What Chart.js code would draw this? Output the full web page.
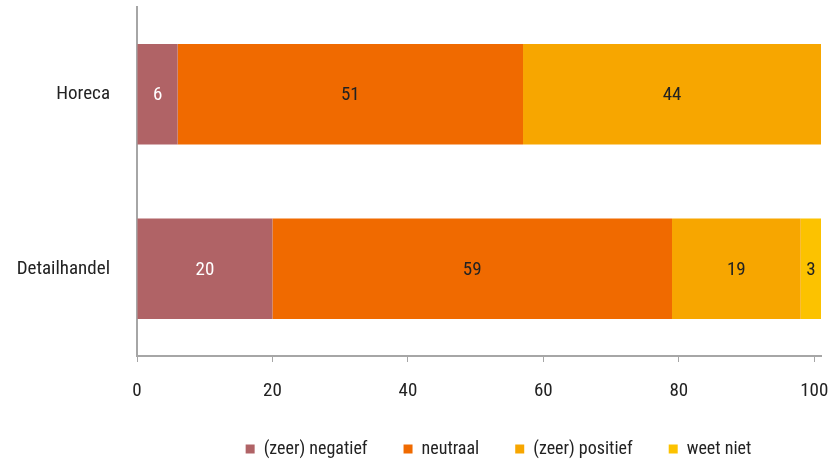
<!DOCTYPE html>
<html>
<head>
<meta charset="utf-8">
<script src="https://cdn.jsdelivr.net/npm/chart.js@4"></script>
<style>
html,body{margin:0;padding:0;background:#fff;}
#wrap{width:830px;height:464px;position:relative;}
</style>
</head>
<body>
<div id="wrap"><canvas id="c" width="830" height="464"></canvas></div>
<script>
const categories = ["Horeca", "Detailhandel"];
const seriesNames = ["(zeer) negatief", "neutraal", "(zeer) positief", "weet niet"];
const negatief = [6, 20];
const neutraal = [51, 59];
const positief = [44, 19];
const weetNiet = [0, 3];
const tickLabels = [0, 20, 40, 60, 80, 100];

const colors = ["#b06366", "#f06a00", "#f7a600", "#fcc200"];
const labelColors = ["#ffffff", "#222222", "#222222", "#222222"];
const FONT = "'Roboto Condensed', 'Liberation Sans Narrow', 'Arial Narrow', sans-serif";

const allSeries = [negatief, neutraal, positief, weetNiet];

const valueLabels = {
  id: 'valueLabels',
  afterDatasetsDraw(chart) {
    const ctx = chart.ctx;
    ctx.save();
    ctx.font = "19px " + FONT;
    ctx.textAlign = 'center';
    ctx.textBaseline = 'middle';
    chart.data.datasets.forEach((ds, i) => {
      const meta = chart.getDatasetMeta(i);
      meta.data.forEach((bar, j) => {
        const v = ds.data[j];
        if (!v) return;
        const x = (bar.x + bar.base) / 2;
        ctx.fillStyle = labelColors[i];
        ctx.fillText(String(v), x, bar.y + 1);
      });
    });
    ctx.restore();
  }
};

const legendFit = {
  id: 'legendFit',
  beforeInit(chart) {
    const lg = chart.legend;
    const orig = lg.fit;
    lg.fit = function () { orig.call(this); this.height = 60; };
  },
  afterLayout(chart) {
    const lg = chart.legend;
    lg.left += 88; lg.right += 88;
  }
};

new Chart(document.getElementById('c'), {
  type: 'bar',
  data: {
    labels: categories,
    datasets: allSeries.map((d, i) => ({
      label: seriesNames[i],
      data: d,
      backgroundColor: colors[i],
      borderWidth: 0,
      categoryPercentage: 1,
      barPercentage: 0.575
    }))
  },
  options: {
    indexAxis: 'y',
    responsive: false,
    animation: false,
    layout: { padding: { top: 7, right: 9, left: 0, bottom: 0 } },
    plugins: {
      tooltip: { enabled: false },
      legend: {
        position: 'bottom',
        labels: {
          boxWidth: 9, boxHeight: 9, padding: 36,
          color: '#222',
          font: { family: FONT, size: 18 }
        }
      }
    },
    scales: {
      x: {
        stacked: true,
        min: 0, max: 101,
        afterBuildTicks(scale) { scale.ticks = tickLabels.map(v => ({ value: v })); },
        afterFit(scale) { scale.paddingRight = 0; scale.paddingLeft = 0; scale.height = 48; },
        grid: { drawOnChartArea: false, drawTicks: true, tickLength: 6, color: '#a6a6a6', tickColor: '#a6a6a6' },
        border: { display: true, color: '#a6a6a6', width: 2 },
        ticks: { color: '#222', font: { family: FONT, size: 19 }, padding: 18, maxRotation: 0 }
      },
      y: {
        stacked: true,
        grid: { display: false, drawTicks: false },
        border: { display: true, color: '#a6a6a6', width: 2 },
        ticks: { color: '#222', font: { family: FONT, size: 19 }, padding: 27 },
        afterFit(scale) { scale.width = 137; scale.paddingTop = 0; scale.paddingBottom = 0; }
      }
    }
  },
  plugins: [valueLabels, legendFit]
});
</script>
</body>
</html>
